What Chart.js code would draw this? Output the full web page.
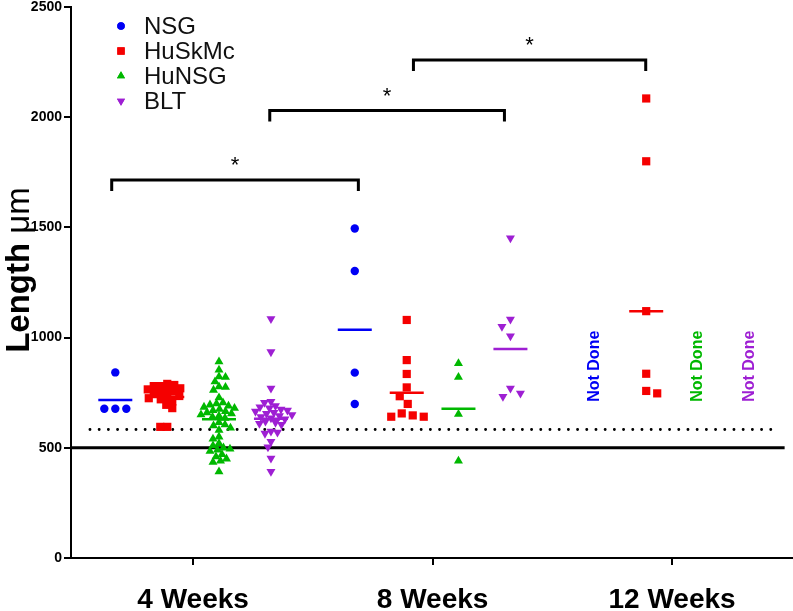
<!DOCTYPE html>
<html><head><meta charset="utf-8">
<script src="https://cdn.jsdelivr.net/npm/chart.js@4.4.1/dist/chart.umd.min.js"></script>
<style>html,body{margin:0;padding:0;background:#fff}#wrap{width:793px;height:611px}</style>
</head><body><div id="wrap"><canvas id="c" width="793" height="611"></canvas></div>
<script>
// ---------- data ----------
const weekLabels = ['4 Weeks', '8 Weeks', '12 Weeks'];
const weekPositions = [1, 2, 3];
const seriesNames = ['NSG', 'HuSkMc', 'HuNSG', 'BLT'];

// values per week (null = not done)
const nsgValues = [
  [842, 677, 677, 677],
  [1495, 1302, 841, 699],
  null
];
const huskmcValues = [
  [790, 785, 780, 780, 770, 765, 760, 755, 750, 745, 735, 730, 725, 720, 710, 695, 680, 595, 595],
  [1080, 898, 835, 774, 734, 699, 656, 647, 641, 641],
  [2085, 1800, 1120, 836, 758, 747]
];
const hunsgValues = [
  [891, 853, 823, 820, 800, 777, 775, 762, 727,
   705, 700, 695, 690, 685, 680, 675, 670, 665, 660, 655, 650, 645, 640, 635,
   615, 605, 600, 590, 580, 550, 540,
   520, 510, 500, 495, 490, 485, 470, 460, 450, 440, 435, 392],
  [883, 820, 653, 440],
  null
];
const bltValues = [
  [1085, 935, 770, 710, 705, 690, 685, 680, 675, 670, 665, 660, 655, 650, 645, 640, 635, 630,
   620, 615, 610, 605, 575, 570, 565, 528, 503, 452, 392],
  [1452, 1083, 1050, 1007, 770, 747, 732],
  null
];
// horizontal group lines (means) per week
const nsgMeans = [717, 1036, null];
const huskmcMeans = [730, 750, 1120];
const hunsgMeans = [629, 677, null];
const bltMeans = [632, 948, null];

// significance brackets
const bracketFrom = [0.66, 1.32, 1.92];
const bracketTo = [1.69, 2.30, 2.89];
const bracketTop = [1715, 2030, 2260];
const bracketMarks = ['*', '*', '*'];

// threshold lines
const solidThreshold = 500;
const dottedThreshold = 583;

// y ticks
const yTicks = [0, 500, 1000, 1500, 2000, 2500];
const notDoneText = 'Not Done';
const notDoneLevel = 870;

// ---------- styling ----------
const FONT = "'Liberation Sans', Arial, Helvetica, sans-serif";
const colors = ['#0000F5', '#F50000', '#00B800', '#9E1FD3'];
const styles = [
  {pointStyle: 'circle', radius: 4.2, rotation: 0, D: 6.6},
  {pointStyle: 'rect', radius: 5.8, rotation: 0, D: 6.6},
  {pointStyle: 'triangle', radius: 5.2, rotation: 0, D: 6.2},
  {pointStyle: 'triangle', radius: 5.2, rotation: 180, D: 6.2}
];
const sparseSpacing = 11;   // px spacing used for small groups
const groupOffsets = [-0.325, -0.108, 0.108, 0.325];
const allValues = [nsgValues, huskmcValues, hunsgValues, bltValues];
const allMeans = [nsgMeans, huskmcMeans, hunsgMeans, bltMeans];

const pointDatasets = allValues.map((vals, si) => {
  const data = [];
  vals.forEach((arr, wi) => {
    if (!arr) return;
    arr.forEach(v => data.push({x: weekPositions[wi] + groupOffsets[si], y: v}));
  });
  return {
    type: 'scatter', label: seriesNames[si], data,
    backgroundColor: colors[si], borderColor: colors[si], borderWidth: 0,
    pointStyle: styles[si].pointStyle, pointRadius: styles[si].radius,
    pointRotation: styles[si].rotation, pointHoverRadius: styles[si].radius, order: 2
  };
});
const meanDatasets = allMeans.map((m, si) => ({
  type: 'scatter', label: seriesNames[si] + ' mean',
  data: m.map((v, wi) => v == null ? null : {x: weekPositions[wi] + groupOffsets[si], y: v}).filter(Boolean),
  pointStyle: 'line', pointRadius: 17, pointHoverRadius: 17, borderColor: colors[si],
  backgroundColor: colors[si], pointBorderWidth: 2.5, borderWidth: 2.5, order: 1
}));
const bracketDatasets = bracketFrom.map((x0, i) => ({
  type: 'scatter', label: 'bracket' + i, showLine: true,
  data: [{x: x0, y: bracketTop[i] - 50}, {x: x0, y: bracketTop[i]}, {x: bracketTo[i], y: bracketTop[i]}, {x: bracketTo[i], y: bracketTop[i] - 50}],
  borderColor: '#000', borderWidth: 3, pointRadius: 0, pointHoverRadius: 0, order: 3,
  borderJoinStyle: 'miter'
}));
const lineDatasets = [
  {type: 'scatter', label: 'solid', showLine: true, data: [{x: 0.49, y: solidThreshold}, {x: 3.47, y: solidThreshold}],
   borderColor: '#000', borderWidth: 3, pointRadius: 0, pointHoverRadius: 0, order: 4},
  {type: 'scatter', label: 'dotted', showLine: true, data: [{x: 0.569, y: dottedThreshold}, {x: 3.44, y: dottedThreshold}],
   borderColor: '#000', borderWidth: 2.8, borderDash: [0.1, 9.1], borderCapStyle: 'round', pointRadius: 0, pointHoverRadius: 0, order: 4}
];

const overlay = {
  id: 'overlay',
  afterDraw(chart) {
    const ctx = chart.ctx;
    const xs = chart.scales.x, ys = chart.scales.y;
    ctx.save();
    // y title
    ctx.translate(20, 270);
    ctx.rotate(-Math.PI / 2);
    ctx.fillStyle = '#000';
    ctx.textBaseline = 'middle';
    const fb = 'bold 33px ' + FONT, fn = '33px ' + FONT;
    ctx.font = fb; const w1 = ctx.measureText('Length ').width;
    ctx.font = fn; const w2 = ctx.measureText('\u03bcm').width;
    let x0 = -(w1 + w2) / 2;
    ctx.font = fb; ctx.textAlign = 'left'; ctx.fillText('Length ', x0, 0);
    ctx.font = fn; ctx.fillText('\u03bcm', x0 + w1, 0);
    ctx.restore();

    // legend
    ctx.save();
    seriesNames.forEach((name, i) => {
      const y = 26 + i * 25;
      ctx.fillStyle = colors[i]; ctx.strokeStyle = colors[i];
      Chart.helpers.drawPoint(ctx, {pointStyle: styles[i].pointStyle, rotation: styles[i].rotation,
        radius: styles[i].radius * 0.9, borderWidth: 0}, 121, y);
      ctx.fill();
      ctx.fillStyle = '#111';
      ctx.font = '24px ' + FONT; ctx.textAlign = 'left'; ctx.textBaseline = 'middle';
      ctx.fillText(name, 144, y + 1);
    });
    ctx.restore();

    // Not Done labels
    ctx.save();
    allValues.forEach((vals, si) => {
      vals.forEach((arr, wi) => {
        if (arr) return;
        const px = xs.getPixelForValue(weekPositions[wi] + groupOffsets[si]);
        const py = ys.getPixelForValue(notDoneLevel);
        ctx.save();
        ctx.translate(px, py); ctx.rotate(-Math.PI / 2);
        ctx.fillStyle = colors[si]; ctx.font = 'bold 16px ' + FONT;
        ctx.textAlign = 'center'; ctx.textBaseline = 'middle';
        ctx.fillText(notDoneText, 0, 0);
        ctx.restore();
      });
    });
    ctx.restore();

    // stars
    ctx.save();
    ctx.fillStyle = '#000'; ctx.font = '22px ' + FONT; ctx.textAlign = 'center'; ctx.textBaseline = 'middle';
    bracketMarks.forEach((m, i) => {
      const px = xs.getPixelForValue((bracketFrom[i] + bracketTo[i]) / 2);
      const py = ys.getPixelForValue(bracketTop[i]) - 14;
      ctx.fillText(m, px, py);
    });
    ctx.restore();
  }
};

const chart = new Chart(document.getElementById('c'), {
  type: 'scatter',
  data: {datasets: [...pointDatasets, ...meanDatasets, ...bracketDatasets, ...lineDatasets]},
  options: {
    responsive: false, animation: false, devicePixelRatio: 1,
    layout: {autoPadding: false, padding: {top: 7, right: 0, bottom: 0, left: 0}},
    plugins: {legend: {display: false}, tooltip: {enabled: false}},
    scales: {
      x: {
        type: 'linear', min: 0.49, max: 3.505,
        afterBuildTicks: s => { s.ticks = weekPositions.map(v => ({value: v})); },
        afterFit: s => { s.height = 53; s.paddingLeft = 0; s.paddingRight = 0; },
        ticks: {callback: v => weekLabels[weekPositions.indexOf(v)], color: '#000',
          font: {family: FONT, size: 28, weight: 'bold'}, padding: 18, maxRotation: 0, autoSkip: false},
        grid: {display: true, drawOnChartArea: false, drawTicks: true, tickLength: 7, color: '#000', lineWidth: 2},
        border: {display: true, color: '#000', width: 2}
      },
      y: {
        type: 'linear', min: 0, max: 2500,
        afterBuildTicks: s => { s.ticks = yTicks.map(v => ({value: v})); },
        afterFit: s => { s.width = 71; s.paddingTop = 0; s.paddingBottom = 0; },
        ticks: {callback: v => String(v), color: '#000', font: {family: FONT, size: 14, weight: 'bold'}, padding: 2},
        grid: {display: true, drawOnChartArea: false, drawTicks: true, tickLength: 7, color: '#000', lineWidth: 2},
        border: {display: true, color: '#000', width: 2}
      }
    }
  },
  plugins: [overlay]
});

// beeswarm layout computed from the values through the chart's scales
function swarm() {
  const xs = chart.scales.x, ys = chart.scales.y;
  const pxPerX = (xs.right - xs.left) / (xs.max - xs.min);
  allValues.forEach((vals, si) => {
    const data = [];
    vals.forEach((arr, wi) => {
      if (!arr) return;
      const D = arr.length <= 10 ? sparseSpacing : styles[si].D;
      const center = weekPositions[wi] + groupOffsets[si];
      const idx = arr.map((v, i) => i).sort((a, b) => arr[b] - arr[a]);
      const placed = [];
      idx.forEach((i, n) => {
        const y = ys.getPixelForValue(arr[i]);
        let chosen = 0;
        for (let k = 0; k < 400; k++) {
          const mag = Math.ceil(k / 2) * 0.5;
          const off = (k % 2 === 1 ? 1 : -1) * mag * (n % 2 ? 1 : -1);
          let ok = true;
          for (const p of placed) {
            const dx = off - p.x, dy = y - p.y;
            if (dx * dx + dy * dy < D * D) { ok = false; break; }
          }
          if (ok) { chosen = off; break; }
        }
        placed.push({x: chosen, y});
        data.push({x: center + chosen / pxPerX, y: arr[i]});
      });
    });
    chart.data.datasets[si].data = data;
  });
  chart.update('none');
}
swarm();
</script></body></html>
